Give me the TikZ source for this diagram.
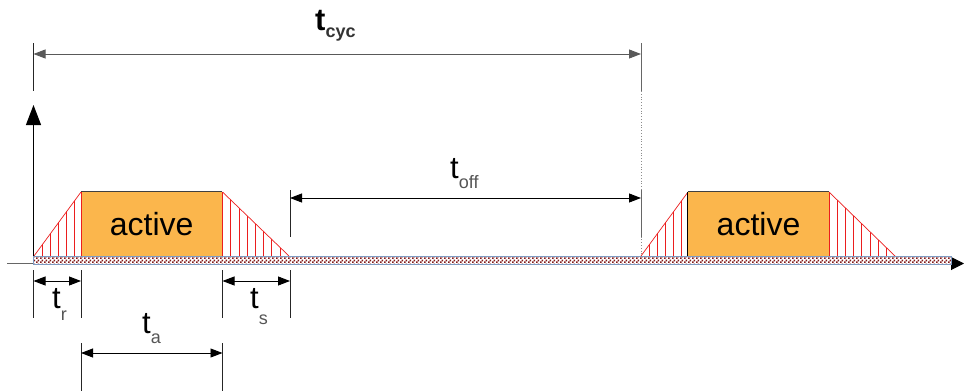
\documentclass[tikz,border=0pt]{standalone}
\usepackage{fontspec}
\setmainfont{Liberation Sans}
\usetikzlibrary{arrows.meta,calc,patterns.meta}
\definecolor{actorange}{RGB}{251,182,76}
\definecolor{bandred}{RGB}{130,25,25}
\definecolor{bandblue}{RGB}{125,155,195}
\definecolor{subgray}{RGB}{85,85,85}
\definecolor{hatchred}{RGB}{235,30,30}
\tikzdeclarepattern{name=bandcheck,type=uncolored,
  bounding box={(0,0) and (4pt,4pt)},tile size={(4pt,4pt)},
  code={\fill (0,0) rectangle (2pt,2pt); \fill (2pt,2pt) rectangle (4pt,4pt);}}
\newcommand{\tlab}[2][10pt]{t\raisebox{-#1}{\fontsize{18}{18}\selectfont\color{subgray}#2}}
\begin{document}
\begin{tikzpicture}[x=1pt,y=-1pt,
  dim/.style={{Triangle[length=12pt,width=9pt]}-{Triangle[length=12pt,width=9pt]},line width=0.9pt},
  tick/.style={black!85,line width=0.9pt},
  ramp/.style={draw=hatchred,line width=0.7pt},
  actbox/.style={fill=actorange,minimum width=141pt,minimum height=64pt,inner sep=0pt,
    font=\fontsize{32}{32}\selectfont},
  tlabel/.style={anchor=base west,inner sep=0pt,font=\fontsize{31}{31}\selectfont}]
\useasboundingbox (0,0) rectangle (964,391);

% pulses
\coordinate (r1a) at (34,256); \coordinate (r1b) at (81,192); \coordinate (r1c) at (81,256);
\coordinate (f1a) at (222.5,192); \coordinate (f1b) at (289,256); \coordinate (f1c) at (222.5,256);
\coordinate (r2a) at (641,256); \coordinate (r2b) at (688,192); \coordinate (r2c) at (688,256);
\coordinate (f2a) at (829,192); \coordinate (f2b) at (895,256); \coordinate (f2c) at (829,256);
\foreach \p/\q/\c/\n/\d in {r1a/r1b/r1c/5/8,f1a/f1b/f1c/7/8.2,r2a/r2b/r2c/5/8,f2a/f2b/f2c/7/8.2} {
  \begin{scope}
    \clip (\p) -- (\q) -- (\c) -- cycle;
    \foreach \k in {1,...,\n} \draw[ramp] ($(\p)+(\k*\d,-80)$) -- ++(0,160);
  \end{scope}
}
\draw[ramp] (r1a) -- (r1b);
\draw[ramp] (f1a) -- (f1b);
\draw[ramp] (r2a) -- (r2b);
\draw[ramp] (f2a) -- (f2b);
\node[actbox] (act1) at (151.75,224) {active};
\node[actbox] (act2) at (758.5,224) {active};
\draw[black!75,line width=0.8pt] (act1.north west) -- (act1.north east);
\draw[black!75,line width=0.8pt] (act2.north west) -- (act2.north east);
\draw[ramp] (act1.south west) -- (act1.north west);
\draw[ramp] (act1.south east) -- (act1.north east);
\draw[black,line width=1pt] (act2.south west) -- (act2.north west);
\draw[ramp] (act2.south east) -- (act2.north east);

% axes and time band
\coordinate (xs) at (7,263.5);
\coordinate (xe) at (964,263.5);
\coordinate (ys) at (33.5,263.5);
\coordinate (ye) at (33.5,105);
\draw[black!60,line width=1pt,-{Triangle[length=13pt,width=13pt,black]}] (xs) -- (xe);
\draw[line width=1pt,-{Triangle[length=20pt,width=15pt]}] (ys) -- (ye);
\fill[white] (33.5,256.5) rectangle (951,264);
\fill[pattern={bandcheck},pattern color=bandred] (33.5,256.5) rectangle (951,264);
\draw[bandblue,line width=0.8pt] (33.5,256.5) rectangle (951,264);

% t_cyc
\draw[tick] (33.5,43) -- (33.5,91);
\draw[black!60,line width=1pt] (641,43) -- (641,91);
\draw[black!45,line width=0.8pt,dotted] (641,91) -- (641,256);
\coordinate (cycL) at (33.5,54);
\coordinate (cycR) at (641,54);
\draw[dim,black!65] (cycL) -- (cycR);
\node[tlabel,font=\fontsize{31}{31}\selectfont\bfseries] (tcyc) at (315,30)
  {t\raisebox{-7pt}{\fontsize{18}{18}\selectfont\bfseries\color{black!80}cyc}};

% t_off
\draw[tick] (290,190) -- (290,237);
\draw[black!60,line width=1pt] (641,190) -- (641,237);
\coordinate (offL) at (290,198);
\coordinate (offR) at (641,198);
\draw[dim] (offL) -- (offR);
\node[tlabel] (toff) at (450,178) {\tlab{off}};

% t_r and t_s
\foreach \x in {33.5,81,222.5,290} \draw[tick] (\x,270) -- (\x,318);
\coordinate (rL) at (33.5,281); \coordinate (rR) at (81,281);
\coordinate (sL) at (222.5,281); \coordinate (sR) at (290,281);
\draw[dim] (rL) -- (rR);
\draw[dim] (sL) -- (sR);
\node[tlabel] (tr) at (52,308) {\tlab[12pt]{r}};
\node[tlabel] (ts) at (250,308) {\tlab[16pt]{s}};

% t_a
\foreach \x in {81,222.5} \draw[tick] (\x,343) -- (\x,391);
\coordinate (aL) at (81,353); \coordinate (aR) at (222.5,353);
\draw[dim] (aL) -- (aR);
\node[tlabel] (ta) at (142,333) {\tlab{a}};
\end{tikzpicture}
\end{document}
